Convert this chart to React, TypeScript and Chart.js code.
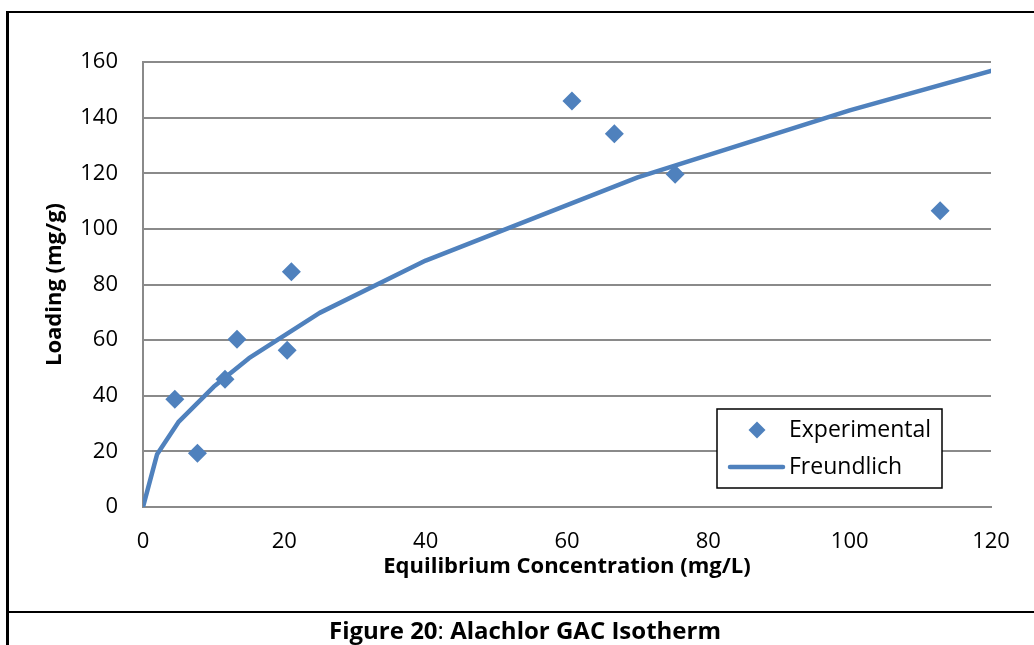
import React, { useEffect, useRef } from 'react';
import { Chart, registerables } from 'chart.js';

Chart.register(...registerables);

// Experimental isotherm data (Equilibrium concentration mg/L, loading mg/g)
const expConc = [4.5, 7.7, 11.6, 13.3, 20.4, 21.0, 60.7, 66.7, 75.3, 112.8];
const expLoading = [38.7, 19.3, 45.9, 60.3, 56.4, 84.6, 146.0, 134.2, 119.6, 106.5];

// Freundlich model curve
const freundConc = [0, 2, 5, 10, 15, 25, 40, 70, 100, 120];
const freundLoading = [0, 19, 30.5, 43.2, 53.5, 69.8, 88.6, 118.5, 142.6, 156.8];

const seriesNames = ['Experimental', 'Freundlich'];
const xTitle = 'Equilibrium Concentration (mg/L)';
const yTitle = 'Loading (mg/g)';
const xRange = [0, 120, 20];
const yRange = [0, 160, 20];

const BLUE = '#4F81BD';
const GRID = '#8a8a8a';
const FONT = '"Open Sans", Lato, sans-serif';

const legendPlugin = {
  id: 'boxLegend',
  afterDatasetsDraw(chart: any) {
    const { ctx, chartArea } = chart;
    const x0 = chartArea.left + 574;
    const y0 = chartArea.top + 347;
    const w = 225;
    const h = 79;
    ctx.save();
    ctx.fillStyle = '#ffffff';
    ctx.fillRect(x0, y0, w, h);
    ctx.strokeStyle = '#000000';
    ctx.lineWidth = 1.5;
    ctx.strokeRect(x0, y0, w, h);
    // diamond marker
    const dx = x0 + 40;
    const dy = y0 + 21;
    const r = 8.5;
    ctx.fillStyle = BLUE;
    ctx.beginPath();
    ctx.moveTo(dx - r, dy);
    ctx.lineTo(dx, dy - r);
    ctx.lineTo(dx + r, dy);
    ctx.lineTo(dx, dy + r);
    ctx.closePath();
    ctx.fill();
    // line marker
    const ly = y0 + 58;
    ctx.strokeStyle = BLUE;
    ctx.lineWidth = 4.5;
    ctx.lineCap = 'round';
    ctx.beginPath();
    ctx.moveTo(x0 + 13, ly);
    ctx.lineTo(x0 + 66, ly);
    ctx.stroke();
    // labels
    ctx.fillStyle = '#000000';
    ctx.font = '23px ' + FONT;
    ctx.textBaseline = 'middle';
    ctx.textAlign = 'left';
    ctx.fillText(seriesNames[0], x0 + 72, dy);
    ctx.fillText(seriesNames[1], x0 + 72, ly);
    ctx.restore();
  },
};

export default function App() {
  const canvasRef = useRef<HTMLCanvasElement | null>(null);

  useEffect(() => {
    if (!canvasRef.current) return;
    const chart = new Chart(canvasRef.current, {
      type: 'scatter',
      data: {
        datasets: [
          {
            label: seriesNames[0],
            data: expConc.map((c, i) => ({ x: c, y: expLoading[i] })),
            pointStyle: 'rectRot',
            pointRadius: 9.5,
            pointHoverRadius: 9.5,
            backgroundColor: BLUE,
            borderColor: BLUE,
            borderWidth: 0,
            showLine: false,
          },
          {
            label: seriesNames[1],
            data: freundConc.map((c, i) => ({ x: c, y: freundLoading[i] })),
            showLine: true,
            pointRadius: 0,
            pointHoverRadius: 0,
            borderColor: BLUE,
            backgroundColor: BLUE,
            borderWidth: 4.5,
            tension: 0,
            borderJoinStyle: 'round',
            borderCapStyle: 'round',
          } as any,
        ],
      },
      options: {
        responsive: false,
        maintainAspectRatio: false,
        animation: false,
        layout: { padding: { left: 0, top: 62, right: 43, bottom: 65 } },
        plugins: {
          legend: { display: false },
          tooltip: { enabled: false },
          title: { display: false },
        },
        scales: {
          x: {
            type: 'linear',
            min: xRange[0],
            max: xRange[1],
            ticks: {
              stepSize: xRange[2],
              color: '#000',
              font: { family: FONT, size: 22 },
              padding: 22,
              maxRotation: 0,
            },
            grid: { display: false, drawTicks: false },
            border: { display: true, color: GRID, width: 2 },
            title: {
              display: true,
              text: xTitle,
              color: '#000',
              font: { family: FONT, size: 22, weight: 'bold' },
              padding: { top: 0, bottom: 0 },
            },
            afterFit(scale: any) {
              scale.height = 73;
            },
          },
          y: {
            type: 'linear',
            min: yRange[0],
            max: yRange[1],
            ticks: {
              stepSize: yRange[2],
              color: '#000',
              font: { family: FONT, size: 22 },
              padding: 25,
            },
            grid: { display: true, color: GRID, lineWidth: 2, drawTicks: false },
            border: { display: true, color: GRID, width: 2 },
            title: {
              display: true,
              text: yTitle,
              color: '#000',
              font: { family: FONT, size: 22, weight: 'bold' },
              padding: { top: 42, bottom: 0 },
            },
            afterFit(scale: any) {
              scale.width = 143;
            },
          },
        },
      },
      plugins: [legendPlugin],
    });
    return () => chart.destroy();
  }, []);

  return (
    <div
      style={{
        position: 'fixed',
        left: 0,
        top: 0,
        width: 1034,
        height: 645,
        overflow: 'hidden',
        background: '#ffffff',
      }}
    >
      <canvas ref={canvasRef} width={1034} height={645} style={{ position: 'absolute', left: 0, top: 0 }} />
      <div style={{ position: 'absolute', left: 6, top: 11, width: 3, height: 634, background: '#000' }} />
      <div style={{ position: 'absolute', left: 6, top: 11, width: 1040, height: 2, background: '#000' }} />
      <div style={{ position: 'absolute', left: 6, top: 611, width: 1040, height: 2, background: '#000' }} />
      <div
        style={{
          position: 'absolute',
          left: 6,
          top: 615,
          width: 1038,
          textAlign: 'center',
          fontFamily: FONT,
          fontSize: 24,
          lineHeight: '30px',
          color: '#000',
          fontWeight: 700,
          whiteSpace: 'nowrap',
        }}
      >
        Figure 20<span style={{ fontWeight: 400 }}>: </span>Alachlor GAC Isotherm
      </div>
    </div>
  );
}
